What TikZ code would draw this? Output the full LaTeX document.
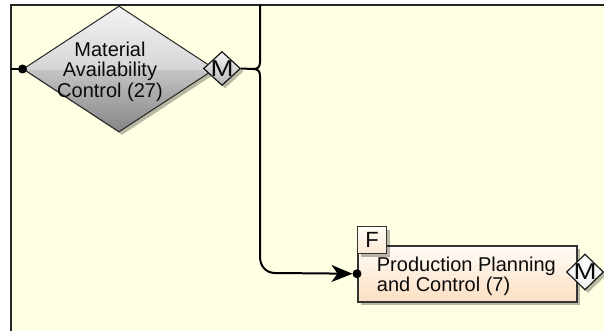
\documentclass[tikz,border=0pt]{standalone}
\usepackage{fontspec}
\setmainfont{Liberation Sans}
\usetikzlibrary{shapes.geometric,shadows,arrows.meta}

\definecolor{canvas}{HTML}{FFFFE3}
\definecolor{framec}{HTML}{262626}
\definecolor{fgL}{HTML}{F3F3F3}
\definecolor{fgM1}{HTML}{D6D6D6}
\definecolor{fgM2}{HTML}{C4C4C4}
\definecolor{fgD}{HTML}{858585}
\definecolor{peachT}{HTML}{FFFCF7}
\definecolor{peachB}{HTML}{FCDFC2}
\definecolor{ink}{HTML}{0A0A0A}

% glossy grey fill for the function diamond (bottom to top)
\pgfdeclareverticalshading{funcgray}{100bp}{%
  color(0bp)=(fgD); color(25bp)=(fgD); color(49.7bp)=(fgM2);
  color(50bp)=(fgM1); color(75bp)=(fgL); color(100bp)=(fgL)}

\tikzset{
  conn/.style={line width=2pt, draw=black},
  shade3/.style={drop shadow={shadow xshift=3pt, shadow yshift=-3pt,
      fill=black, opacity=0.28}},
  txt/.style={font=\fontsize{20}{20.5}\selectfont, text=ink, inner sep=0pt},
  fnshape/.style={diamond, draw=black!85, line width=1pt, shading=funcgray,
      inner sep=0pt, shade3},
  mgray/.style={diamond, draw=black!90, line width=1.2pt, top color=fgL,
      bottom color=black!28, inner sep=0pt, minimum width=37pt,
      minimum height=34pt, shade3, text=ink},
  mwhite/.style={diamond, draw=black!90, line width=1.2pt, top color=white,
      bottom color=black!6, inner sep=0pt, minimum width=37pt,
      minimum height=36pt, shade3, text=ink},
  mletter/.style={font=\fontsize{23}{23}\selectfont, text=ink, inner sep=0pt,
      xscale=1.2},
  pbox/.style={rectangle, draw=black!80, line width=1.5pt, top color=peachT,
      bottom color=peachB, inner sep=0pt, shade3},
  fbox/.style={rectangle, draw=black!80, line width=1.2pt, top color=peachT,
      bottom color=peachB!70!white, inner sep=0pt, shade3,
      font=\fontsize{22}{22}\selectfont, text=ink},
  dot/.style={circle, fill=black, inner sep=0pt, minimum size=9pt},
}

\begin{document}
\begin{tikzpicture}[x=1pt, y=-1pt]
  \useasboundingbox (0,0) rectangle (604,331);
  \fill[white] (0,0) rectangle (604,331);

  % sheet with its left and top edges
  \fill[canvas] (11,4.7) rectangle (612,340);
  \draw[line width=2pt, framec] (11,340) -- (11,4.7) -- (612,4.7);
  \coordinate (frameL) at (11,69);
  \coordinate (frameT) at (260,4.7);

  % function: Material Availability Control
  \node[fnshape, minimum width=192pt, minimum height=126pt] (mat) at (119,69) {};
  \node[txt, align=center] (matlbl) at (110,71.5)
    {Material\\Availability\\Control (27)};
  \node[mgray] (matM) at (222,68.5) {};
  \node[mletter] (matMl) at (222,68.5) {M};

  % function: Production Planning and Control
  \node[pbox, minimum width=219pt, minimum height=56pt, anchor=north west]
    (pp) at (357,245) {};
  \node[fbox, minimum width=29pt, minimum height=27pt, anchor=north west]
    (ppF) at (357,226) {F};
  \node[txt, align=left, anchor=west] (pplbl) at (376.7,276.2)
    {Production Planning\\and Control (7)};
  \node[mwhite] (ppM) at (585,272) {};
  \node[mletter] (ppMl) at (585,272) {M};

  % connectors
  \coordinate (jn) at (253,69);
  \draw[conn] (frameL) -- (mat.west);
  \draw[conn] (matM.east) -- (jn);
  \draw[conn] (jn) .. controls (258,69) and (260,67) .. (260,62) -- (frameT);
  \draw[conn, -{Stealth[length=21pt, width=17pt, inset=6pt]}, shorten >=4.5pt]
    (jn) .. controls (258,69) and (260,71) .. (260,76) -- (260,257)
    .. controls (260,266) and (266,273) .. (275,273) -- (pp.west);

  % connection dots
  \node[dot] (dmat) at (mat.west) {};
  \node[dot] (dpp) at (pp.west) {};
\end{tikzpicture}
\end{document}
